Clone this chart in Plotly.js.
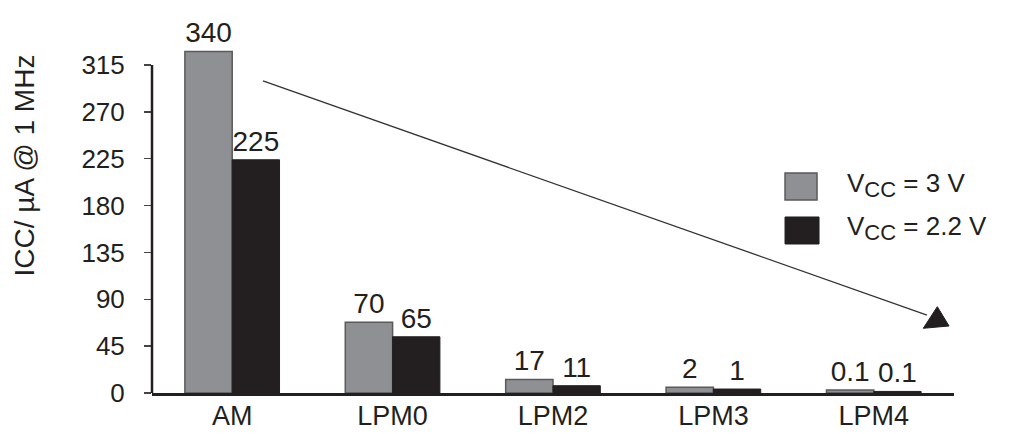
<!DOCTYPE html>
<html>
<head>
<meta charset="utf-8">
<script src="https://cdn.plot.ly/plotly-3.0.1.min.js"></script>
<style>html,body{margin:0;padding:0;background:#fff;}#chart{width:1013px;height:434px;}</style>
</head>
<body>
<div id="chart"></div>
<script>
// ---- data ----
const categories = ['AM', 'LPM0', 'LPM2', 'LPM3', 'LPM4'];
// bar heights as drawn in the picture (axis units)
const vcc3Heights = [328, 68, 13, 5.5, 3];
const vcc22Heights = [224, 54, 7, 3.8, 1.5];
// value labels printed above the bars
const vcc3Labels = ['340', '70', '17', '2', '0.1'];
const vcc22Labels = ['225', '65', '11', '1', '0.1'];
const yTickValues = [0, 45, 90, 135, 180, 225, 270, 315];
const seriesNames = ['V<sub><span style="font-size:22px">CC</span></sub> = 3 V',
                     'V<sub><span style="font-size:22px">CC</span></sub> = 2.2 V'];
const yTitle = 'ICC/ µA @ 1 MHz';

const FONT = 'Liberation Sans, Arial, Helvetica, sans-serif';
const INK = '#231f20';
const GRAY = '#8f9093';
const GRAY_EDGE = '#5a5a5c';

const boundaryTicks = categories.map((c, i) => i + 0.5);

const traces = [
  {
    type: 'bar', name: seriesNames[0], x: categories, y: vcc3Heights,
    text: vcc3Labels, textposition: 'outside', textangle: 0, cliponaxis: false,
    textfont: {family: FONT, size: 28, color: INK},
    marker: {color: GRAY, line: {color: GRAY_EDGE, width: 1.5}},
    hoverinfo: 'skip'
  },
  {
    type: 'bar', name: seriesNames[1], x: categories, y: vcc22Heights,
    text: vcc22Labels, textposition: 'outside', textangle: 0, cliponaxis: false,
    textfont: {family: FONT, size: 28, color: INK},
    marker: {color: INK, line: {color: INK, width: 1}},
    hoverinfo: 'skip'
  }
];

const yRange = [0, 340];

const layout = {
  width: 1013, height: 434,
  margin: {l: 152, r: 59, t: 39, b: 41, pad: 0},
  paper_bgcolor: '#ffffff', plot_bgcolor: '#ffffff',
  showlegend: false,
  barmode: 'group', bargap: 0.41, bargroupgap: 0,
  font: {family: FONT, color: INK},
  xaxis: {
    type: 'category', range: [-0.5, 4.5],
    showgrid: false, zeroline: false,
    showline: true, linecolor: INK, linewidth: 3,
    ticks: '', ticklabelstandoff: -3,
    tickfont: {family: FONT, size: 27, color: INK}
  },
  xaxis2: {
    overlaying: 'x', anchor: 'y', type: 'linear', range: [-0.5, 4.5],
    tickmode: 'array', tickvals: boundaryTicks, showticklabels: false,
    ticks: 'outside', ticklen: 8, tickwidth: 1.5, tickcolor: '#555',
    showgrid: false, zeroline: false, showline: false
  },
  xaxis3: {
    overlaying: 'x', anchor: 'y', type: 'linear', range: [-0.5, 4.5],
    tickmode: 'array', tickvals: boundaryTicks, showticklabels: false,
    ticks: 'inside', ticklen: 9, tickwidth: 1.5, tickcolor: '#555',
    showgrid: false, zeroline: false, showline: false
  },
  yaxis: {
    range: yRange, tickmode: 'array', tickvals: yTickValues,
    ticks: 'outside', ticklen: 7, tickwidth: 1.5, tickcolor: '#444',
    ticklabelstandoff: 14,
    tickfont: {family: FONT, size: 26, color: INK},
    showgrid: false, zeroline: false, showline: false
  },
  yaxis2: {
    overlaying: 'y', anchor: 'x', side: 'left', range: yRange,
    tickmode: 'array', tickvals: yTickValues, showticklabels: false,
    ticks: 'inside', ticklen: 12, tickwidth: 1.5, tickcolor: '#444',
    showgrid: false, zeroline: false, showline: false
  },
  shapes: [
    // y axis line (0..315)
    {type: 'line', xref: 'paper', yref: 'y', x0: 0, x1: 0, y0: 0, y1: yTickValues[yTickValues.length - 1],
     line: {color: INK, width: 2.5}},
    // decreasing trend arrow
    {type: 'line', xref: 'paper', yref: 'paper', x0: 0.1384, y0: 0.8814, x1: 0.9663, y1: 0.2203,
     line: {color: '#333', width: 1.3}},
    {type: 'path', xref: 'paper', yref: 'paper', path: 'M 0.9792 0.2438 L 0.9617 0.1828 L 0.9938 0.1893 Z',
     fillcolor: INK, line: {color: INK, width: 1}},
    // legend swatches
    {type: 'rect', xref: 'paper', yref: 'paper', x0: 0.7893, x1: 0.8292, y0: 0.5452, y1: 0.6215,
     fillcolor: GRAY, line: {color: GRAY_EDGE, width: 1.5}},
    {type: 'rect', xref: 'paper', yref: 'paper', x0: 0.7893, x1: 0.8317, y0: 0.4209, y1: 0.4972,
     fillcolor: INK, line: {color: INK, width: 1}}
  ],
  annotations: [
    {text: yTitle, textangle: -90, xref: 'paper', yref: 'paper', x: -0.159, y: 0.644,
     xanchor: 'center', yanchor: 'middle', showarrow: false,
     font: {family: FONT, size: 28, color: INK}},
    {text: seriesNames[0], xref: 'paper', yref: 'paper', x: 0.8641, y: 0.5876,
     xanchor: 'left', yanchor: 'middle', showarrow: false,
     font: {family: FONT, size: 26, color: INK}},
    {text: seriesNames[1], xref: 'paper', yref: 'paper', x: 0.8641, y: 0.4661,
     xanchor: 'left', yanchor: 'middle', showarrow: false,
     font: {family: FONT, size: 26, color: INK}}
  ]
};

Plotly.newPlot('chart', traces, layout, {displayModeBar: false, staticPlot: true});
</script>
</body>
</html>
